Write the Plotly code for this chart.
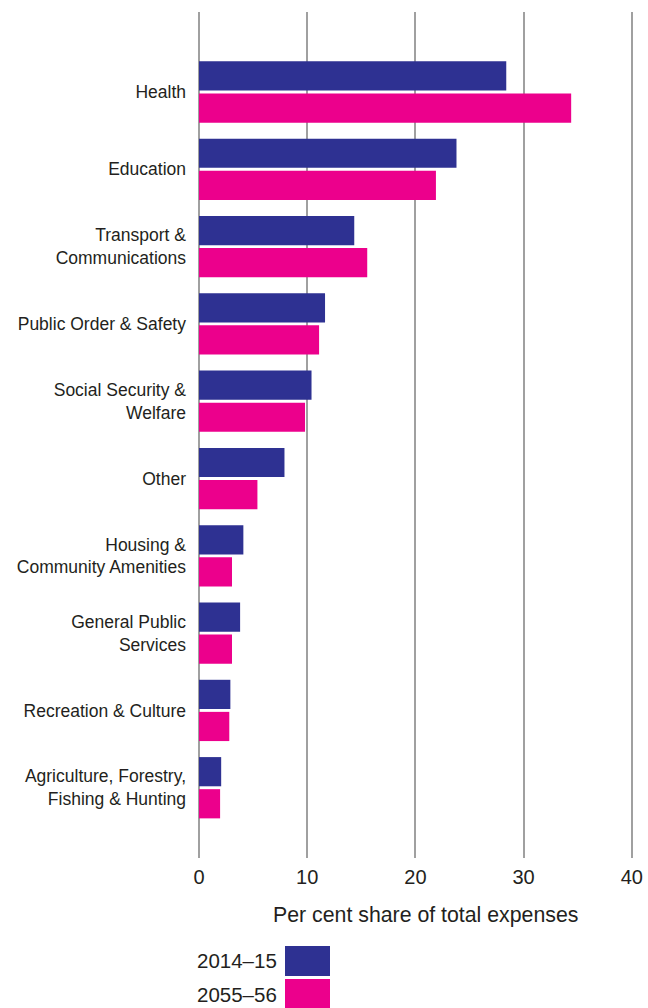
import plotly.graph_objects as go

categories = ["Health", "Education", "Transport &<br>Communications", "Public Order & Safety",
              "Social Security &<br>Welfare", "Other", "Housing &<br>Community Amenities",
              "General Public<br>Services", "Recreation & Culture",
              "Agriculture, Forestry,<br>Fishing & Hunting"]
v2014 = [28.4, 23.8, 14.35, 11.65, 10.4, 7.9, 4.1, 3.8, 2.9, 2.05]
v2055 = [34.4, 21.9, 15.55, 11.1, 9.8, 5.4, 3.05, 3.05, 2.8, 1.95]
series_names = ["2014\u201315", "2055\u201356"]
colors = ["#2E3192", "#EC008C"]
xticks = [0, 10, 20, 30, 40]
x_title = "Per cent share of total expenses"

FONT = "Liberation Sans, Arial, sans-serif"
fig = go.Figure()
for name, vals, c in zip(series_names, [v2014, v2055], colors):
    fig.add_trace(go.Bar(y=categories, x=vals, orientation="h", name=name,
                         marker=dict(color=c, line=dict(width=0)), showlegend=False))

L, R, T, B = 199, 13, 12, 150
PW, PH = 648 - L - R, 1008 - T - B

fig.update_layout(
    width=648, height=1008,
    margin=dict(l=L, r=R, t=T, b=B, autoexpand=False),
    paper_bgcolor="white", plot_bgcolor="white",
    barmode="group", bargap=0.17, bargroupgap=0.09,
    font=dict(family=FONT, color="#231F20", size=17.5),
    xaxis=dict(range=[0, 40.3], tickvals=xticks, showgrid=True, gridcolor="#A0A0A0",
               gridwidth=1.5, zeroline=True, zerolinecolor="#A0A0A0", zerolinewidth=1.5,
               showline=False, ticks="", tickfont=dict(size=20), ticklabelstandoff=5,
               automargin=False),
    yaxis=dict(range=[9.909, -1.035], showgrid=False, ticks="", showline=False,
               automargin=False, tickfont=dict(size=17.5), ticklabelstandoff=12),
)

def py(p):
    return (T + PH - p) / PH
def px(p):
    return (p - L) / PW

fig.add_annotation(xref="paper", yref="paper", x=px(425), y=py(915), text=x_title,
                   showarrow=False, xanchor="center", yanchor="middle",
                   font=dict(size=21.3, color="#231F20"))

# legend drawn manually
legend_rows = [(946, 976), (979, 1009)]
for name, c, (y0, y1) in zip(series_names, colors, legend_rows):
    fig.add_shape(type="rect", xref="paper", yref="paper", x0=px(285), x1=px(330),
                  y0=py(y1), y1=py(y0), fillcolor=c, line=dict(width=0))
    fig.add_annotation(xref="paper", yref="paper", x=px(279), y=py((y0 + y1) / 2),
                       text=name, showarrow=False, xanchor="right", yanchor="middle",
                       font=dict(size=20.5, color="#231F20"))

fig.write_html("out.html")
